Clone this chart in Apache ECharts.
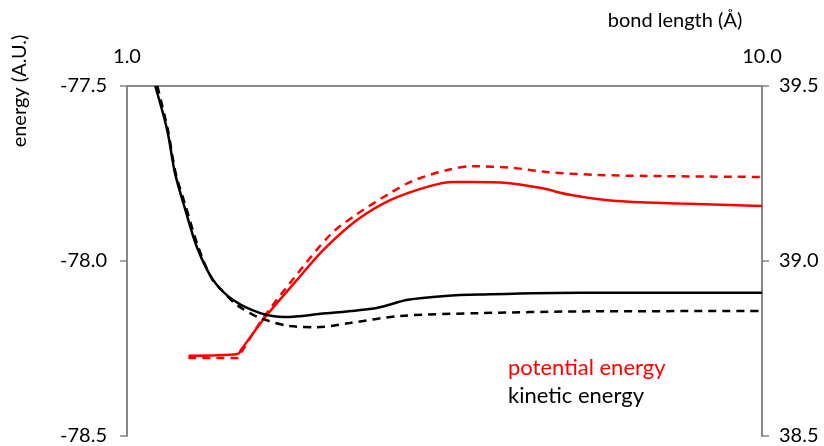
<!DOCTYPE html>
<html>
<head>
<meta charset="utf-8">
<script src="https://cdn.jsdelivr.net/npm/echarts@6/dist/echarts.min.js"></script>
<style>
  html, body { margin: 0; padding: 0; background: #fff; }
  #chart { width: 824px; height: 446px; }
</style>
</head>
<body>
<div id="chart"></div>
<script>
// Bond length (Å) sample points and energies for each curve
const kineticSolidX = [1.40, 1.57, 1.68, 1.82, 1.99, 2.22, 2.50, 2.89, 3.24, 3.74, 4.54, 4.98, 5.51, 6.00, 7.42, 10.0];
const kineticSolidY = [39.500, 39.374, 39.251, 39.151, 39.040, 38.946, 38.889, 38.851, 38.840, 38.849, 38.866, 38.889, 38.900, 38.904, 38.909, 38.909];

const kineticDashX = [1.43, 1.58, 1.69, 1.84, 2.01, 2.20, 2.35, 2.56, 2.89, 3.31, 3.69, 4.16, 4.87, 6.00, 7.42, 10.0];
const kineticDashY = [39.500, 39.374, 39.251, 39.151, 39.040, 38.950, 38.915, 38.874, 38.837, 38.814, 38.811, 38.823, 38.843, 38.851, 38.856, 38.857];

const potentialSolidX = [1.87, 2.57, 2.62, 2.96, 3.41, 3.78, 4.26, 4.73, 5.29, 5.62, 5.90, 6.39, 6.85, 7.28, 7.66, 8.13, 8.84, 9.55, 10.0];
const potentialSolidY = [-78.271, -78.266, -78.253, -78.160, -78.054, -77.969, -77.883, -77.826, -77.786, -77.774, -77.774, -77.777, -77.791, -77.811, -77.823, -77.831, -77.836, -77.840, -77.843];

const potentialDashX = [1.87, 2.57, 2.62, 2.91, 3.31, 3.88, 4.26, 4.73, 5.05, 5.54, 5.90, 6.47, 6.95, 7.66, 8.37, 10.0];
const potentialDashY = [-78.277, -78.277, -78.261, -78.169, -78.063, -77.925, -77.866, -77.806, -77.771, -77.740, -77.729, -77.734, -77.746, -77.754, -77.757, -77.760];

// Axis ranges
const xRange = [1.0, 10.0];
const leftRange = [-78.5, -77.5];
const rightRange = [38.5, 39.5];

const zip = (xs, ys) => xs.map((x, i) => [x, ys[i]]);

const FONT = 'Lato';
const AXIS_COLOR = '#878787';

const chart = echarts.init(document.getElementById('chart'));

function curve(name, xs, ys, axis, color, dashed) {
  return {
    name: name,
    type: 'line',
    yAxisIndex: axis,
    data: zip(xs, ys),
    smooth: 0.3,
    showSymbol: false,
    lineStyle: { color: color, width: 2.5, type: dashed ? [8, 6] : 'solid' }
  };
}

const labelStyle = {
  fontSize: 20,
  fontFamily: FONT,
  color: '#000',
  formatter: v => v.toFixed(1)
};

chart.setOption({
  animation: false,
  backgroundColor: '#ffffff',
  textStyle: { fontFamily: FONT },
  grid: { left: 127, right: 62, top: 86, bottom: 10 },
  xAxis: {
    type: 'value',
    position: 'top',
    min: xRange[0],
    max: xRange[1],
    interval: 9,
    axisLine: { show: true, lineStyle: { color: AXIS_COLOR, width: 2 } },
    axisTick: { show: false },
    splitLine: { show: false },
    axisLabel: Object.assign({ margin: 19 }, labelStyle)
  },
  yAxis: [
    {
      type: 'value',
      position: 'left',
      min: leftRange[0],
      max: leftRange[1],
      interval: 0.5,
      axisLine: { show: true, lineStyle: { color: AXIS_COLOR, width: 2 } },
      axisTick: { show: true, length: 7, lineStyle: { color: AXIS_COLOR, width: 1.5 } },
      splitLine: { show: false },
      axisLabel: Object.assign({ margin: 20 }, labelStyle)
    },
    {
      type: 'value',
      position: 'right',
      min: rightRange[0],
      max: rightRange[1],
      interval: 0.5,
      axisLine: { show: true, lineStyle: { color: AXIS_COLOR, width: 2 } },
      axisTick: { show: true, length: 7, lineStyle: { color: AXIS_COLOR, width: 1.5 } },
      splitLine: { show: false },
      axisLabel: Object.assign({ margin: 17 }, labelStyle)
    }
  ],
  series: [
    curve('potential energy', potentialSolidX, potentialSolidY, 0, '#ff0000', false),
    curve('potential energy (dashed)', potentialDashX, potentialDashY, 0, '#ff0000', true),
    curve('kinetic energy', kineticSolidX, kineticSolidY, 1, '#000000', false),
    curve('kinetic energy (dashed)', kineticDashX, kineticDashY, 1, '#000000', true)
  ],
  graphic: [
    {
      type: 'text',
      x: 675, y: 21,
      style: {
        text: 'bond length (Å)', font: '20px ' + FONT, fill: '#000',
        align: 'center', verticalAlign: 'middle'
      }
    },
    {
      type: 'text',
      x: 20, y: 91,
      rotation: Math.PI / 2,
      style: {
        text: 'energy (A.U.)', font: '20px ' + FONT, fill: '#000',
        align: 'center', verticalAlign: 'middle'
      }
    },
    {
      type: 'text',
      x: 508, y: 368,
      style: {
        // zero-width non-joiner keeps "t" and "i" as separate glyphs
        text: 'poten\u200Ctial energy', font: '22px ' + FONT, fill: '#ff0000',
        align: 'left', verticalAlign: 'middle'
      }
    },
    {
      type: 'text',
      x: 508, y: 396,
      style: {
        text: 'kine\u200Ctic energy', font: '22px ' + FONT, fill: '#000',
        align: 'left', verticalAlign: 'middle'
      }
    }
  ]
});
</script>
</body>
</html>
